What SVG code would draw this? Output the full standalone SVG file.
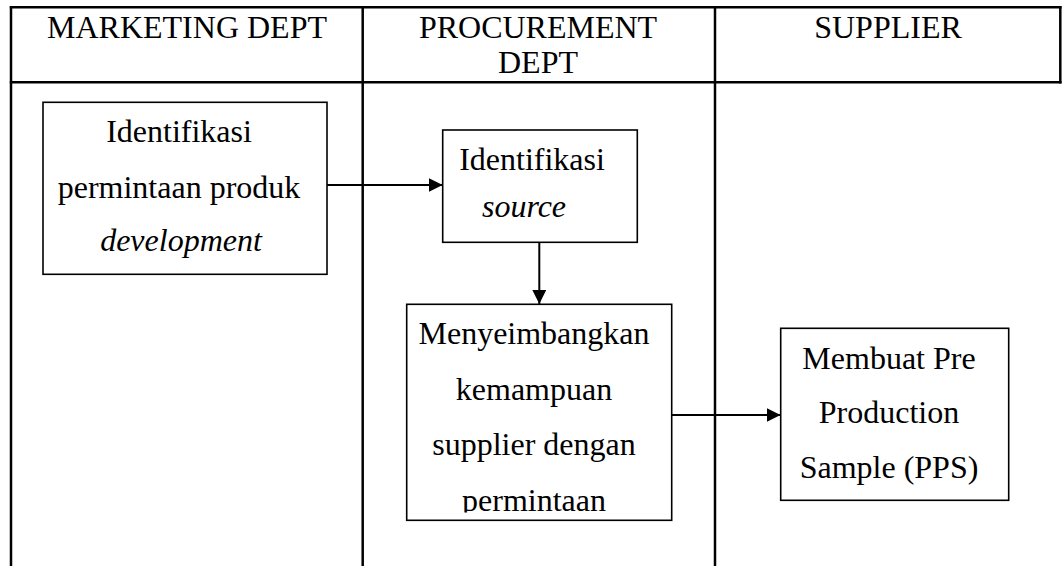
<svg xmlns="http://www.w3.org/2000/svg" width="1063" height="566" viewBox="0 0 1063 566">
  <style>
    .grid { stroke: #000; stroke-width: 2.5; fill: none; }
    .box { fill: #fff; stroke: #000; stroke-width: 1.6; }
    .flow { stroke: #000; stroke-width: 2; fill: none; }
    text { font-family: "Liberation Serif", "Times New Roman", serif; font-size: 32px; fill: #000; text-anchor: middle; }
    .it { font-style: italic; }
  </style>
  <defs>
    <marker id="arrow" markerUnits="userSpaceOnUse" markerWidth="14" markerHeight="14" refX="14" refY="7" orient="auto">
      <path d="M0,0 L14,7 L0,14 z" fill="#000"/>
    </marker>
    <clipPath id="clip-balance">
      <rect x="406" y="303" width="268" height="209.5"/>
    </clipPath>
  </defs>

  <!-- swimlane table -->
  <g id="lanes">
    <line class="grid" x1="9.8" y1="7.3" x2="1061.5" y2="7.3"/>
    <line class="grid" x1="9.8" y1="82.3" x2="1061.5" y2="82.3"/>
    <line class="grid" x1="11" y1="6" x2="11" y2="566"/>
    <line class="grid" x1="362.7" y1="6" x2="362.7" y2="566"/>
    <line class="grid" x1="715" y1="6" x2="715" y2="566"/>
    <line class="grid" x1="1060.3" y1="6" x2="1060.3" y2="83.5"/>
    <text x="187" y="38.3">MARKETING DEPT</text>
    <text x="538" y="38.3">PROCUREMENT</text>
    <text x="538" y="73.3">DEPT</text>
    <text x="888" y="38.3">SUPPLIER</text>
  </g>

  <!-- connectors -->
  <g id="connectors">
    <line class="flow" x1="327" y1="185" x2="442.7" y2="185" marker-end="url(#arrow)"/>
    <line class="flow" x1="539.3" y1="242.3" x2="539.3" y2="304" marker-end="url(#arrow)"/>
    <line class="flow" x1="672" y1="415" x2="780.5" y2="415" marker-end="url(#arrow)"/>
  </g>

  <g id="node-identifikasi-permintaan">
    <rect class="box" x="43" y="102.3" width="284" height="172"/>
    <text x="179" y="142.3">Identifikasi</text>
    <text x="179" y="197.7">permintaan produk</text>
    <text class="it" x="181" y="251">development</text>
  </g>

  <g id="node-identifikasi-source">
    <rect class="box" x="442.7" y="130" width="194.6" height="112.3"/>
    <text x="532" y="170">Identifikasi</text>
    <text class="it" x="524" y="216.7">source</text>
  </g>

  <g id="node-menyeimbangkan">
    <rect class="box" x="406.7" y="304.3" width="265" height="216"/>
    <g clip-path="url(#clip-balance)">
      <text x="534" y="344">Menyeimbangkan</text>
      <text x="534" y="400">kemampuan</text>
      <text x="534" y="455">supplier dengan</text>
      <text x="534" y="510.5">permintaan</text>
    </g>
  </g>

  <g id="node-pps">
    <rect class="box" x="780.7" y="328.3" width="228" height="172"/>
    <text x="889" y="369">Membuat Pre</text>
    <text x="889" y="423.3">Production</text>
    <text x="889" y="478.3">Sample (PPS)</text>
  </g>
</svg>
